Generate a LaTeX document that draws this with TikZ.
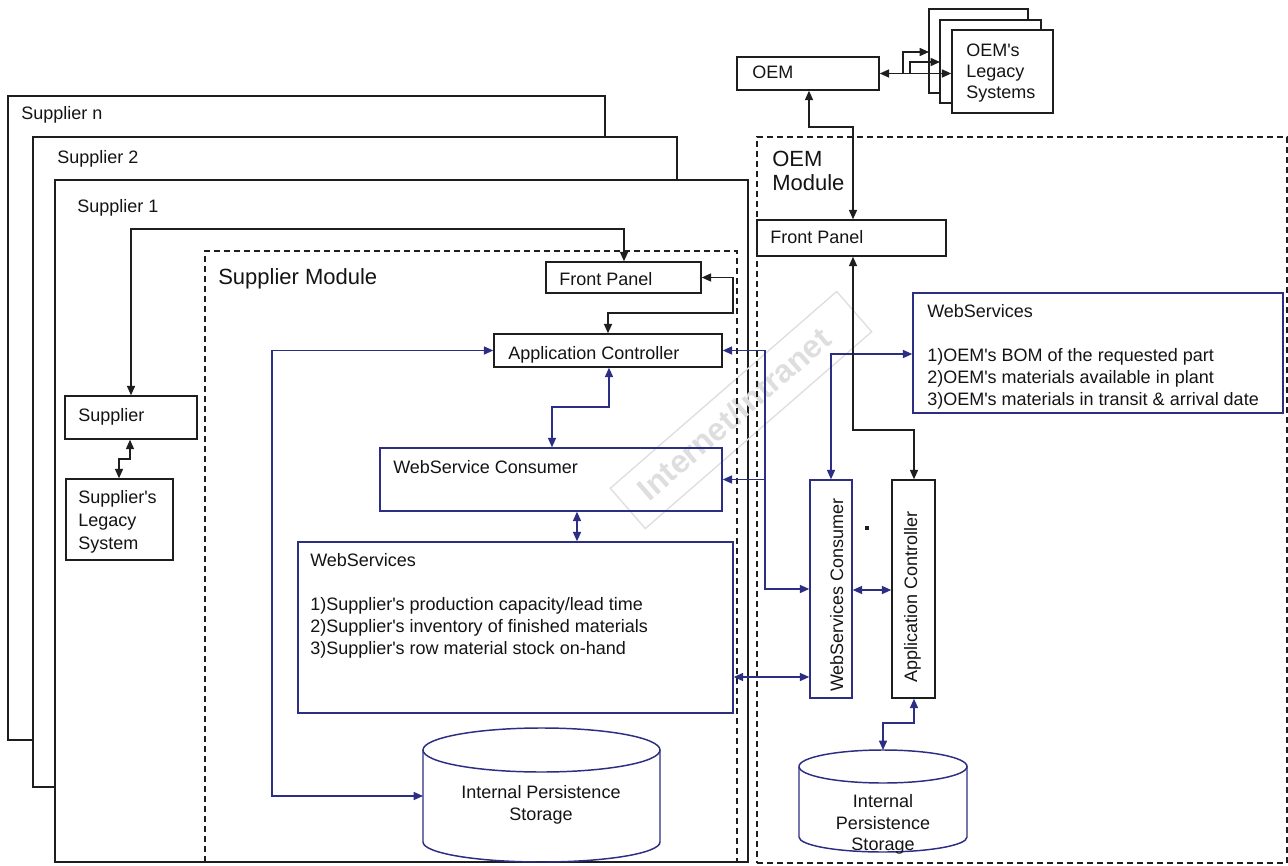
\documentclass[tikz,border=0pt]{standalone}
\usepackage{fontspec}
\setmainfont{Liberation Sans}
\newfontfamily\lsans{Liberation Sans}
\usetikzlibrary{arrows.meta,calc}
\definecolor{lnblue}{RGB}{43,46,131}
\definecolor{ink}{RGB}{30,30,30}
\definecolor{wmgray}{RGB}{222,222,222}
\newcommand{\rnode}[6]{%
  \node[#1, minimum width={(#5-#3)*0.75pt}, minimum height={(#6-#4)*0.75pt}] (#2) at ({(#3+#5)/2},{(#4+#6)/2}) {};}
\newcommand{\tx}[4]{\node[txt, anchor=base west] (#1) at (#2,#3) {#4};}
\newcommand{\tc}[4]{\node[txt, anchor=base] (#1) at (#2,#3) {#4};}
\tikzset{
  txt/.style={font=\lsans\fontsize{13.5}{16.5}\selectfont, inner sep=0pt, text=black!92},
  bigtxt/.style={font=\lsans\fontsize{16.5}{19}\selectfont, inner sep=0pt, text=black!92},
  sbox/.style={draw=ink, fill=white, line width=1.1pt, inner sep=0pt},
  bx/.style={draw=ink, line width=1.1pt, inner sep=0pt},
  bbx/.style={draw=lnblue, line width=1.1pt, inner sep=0pt},
  dbox/.style={draw=ink, line width=0.9pt, dash pattern=on 4.5pt off 3pt, inner sep=0pt},
  blk/.style={draw=ink, line width=1.1pt},
  blu/.style={draw=lnblue, line width=1.1pt},
  blkarr/.style={blk, -{Triangle[length=7pt,width=6pt]}},
  bluarr/.style={blu, -{Triangle[length=7pt,width=6pt]}},
  blkdbl/.style={blk, {Triangle[length=7pt,width=6pt]}-{Triangle[length=7pt,width=6pt]}},
  bludbl/.style={blu, {Triangle[length=7pt,width=6pt]}-{Triangle[length=7pt,width=6pt]}},
}
\begin{document}
\begin{tikzpicture}[x=0.75pt,y=-0.75pt]
\useasboundingbox (0,0) rectangle (1288,866);

% supplier stack
\rnode{sbox}{sn}{8}{96}{605}{740}
\rnode{sbox}{s2}{33}{137}{677}{787}
\rnode{sbox}{s1}{55}{180}{748}{862}
\tx{tsn}{21}{120}{Supplier n}
\tx{ts2}{57}{164}{Supplier 2}
\tx{ts1}{77}{213}{Supplier 1}

% watermark
\node[draw=wmgray, line width=1pt, minimum width=225pt, minimum height=40pt, rotate=41] (wmbox) at (741,410) {};
\node[text=wmgray, font=\lsans\bfseries\fontsize{24}{24}\selectfont, rotate=41, inner sep=0pt] (wmtext) at (734,414) {Internet/Intranet};

% supplier module
\rnode{dbox}{smod}{205}{251}{737}{862}
\node[bigtxt, anchor=base west] (tsmod) at (218,285) {Supplier Module};
\rnode{bx}{sfp}{546}{262}{701}{293}
\tx{tsfp}{559}{286}{Front Panel}
\rnode{bx}{sac}{494}{334}{722}{367}
\tx{tsac}{508}{359}{Application Controller}
\rnode{bbx}{swsc}{380}{448}{722}{511}
\tx{tswsc}{393}{473}{WebService Consumer}
\rnode{bbx}{sws}{298}{542}{733}{713}
\tx{tsws0}{310}{566}{WebServices}
\tx{tsws1}{310}{610}{1)Supplier's production capacity/lead time}
\tx{tsws2}{310}{632}{2)Supplier's inventory of finished materials}
\tx{tsws3}{310}{654}{3)Supplier's row material stock on-hand}
% supplier cylinder
\draw[blu] (541.5,750) ellipse [x radius=88.875pt, y radius=16.5pt];
\draw[blu] (423,750) -- (423,842) arc[start angle=180, end angle=360, x radius=88.875pt, y radius=15pt] -- (660,750);
\coordinate (scylw) at (423,796);
\tc{tscyl1}{541}{798}{Internal Persistence}
\tc{tscyl2}{541}{820}{Storage}
% supplier & legacy
\rnode{bx}{sup}{65}{396}{197}{439}
\tx{tsup}{78}{421}{Supplier}
\rnode{bx}{sleg}{66}{479}{173}{560}
\tx{tsleg1}{78}{503}{Supplier's}
\tx{tsleg2}{78}{526}{Legacy}
\tx{tsleg3}{78}{549}{System}

% OEM side
\rnode{dbox}{omod}{757}{137}{1287}{863}
\node[bigtxt, anchor=base west] (tomod1) at (772,167) {OEM};
\node[bigtxt, anchor=base west] (tomod2) at (772,191) {Module};
\rnode{bx}{ofp}{757}{220}{946}{256}
\tx{tofp}{770}{244}{Front Panel}
\rnode{bx}{oem}{737}{57}{879}{90}
\tx{toem}{752}{79}{OEM}
\rnode{sbox}{leg1}{929}{9}{1028}{93}
\rnode{sbox}{leg2}{940}{20}{1041}{103}
\rnode{sbox}{leg3}{952}{30}{1053}{113}
\tx{tleg1}{966}{57}{OEM's}
\tx{tleg2}{966}{78}{Legacy}
\tx{tleg3}{966}{99}{Systems}
\rnode{bbx}{ows}{913}{293}{1283}{413}
\tx{tows0}{927}{317}{WebServices}
\tx{tows1}{927}{361}{1)OEM's BOM of the requested part}
\tx{tows2}{927}{383}{2)OEM's materials available in plant}
\tx{tows3}{927}{405}{3)OEM's materials in transit \& arrival date}
\rnode{bbx}{owsc}{810}{480}{852}{698}
\node[txt, rotate=90, anchor=base] (towsc) at (843,595) {WebServices Consumer};
\rnode{bx}{oac}{892}{480}{935}{698}
\node[txt, rotate=90, anchor=base] (toac) at (917,597) {Application Controller};
\node[fill=ink, inner sep=0pt, minimum size=3pt] (dot) at (867,528) {};
% OEM cylinder
\draw[blu] (883,766.5) ellipse [x radius=63pt, y radius=12.375pt];
\draw[blu] (799,766.5) -- (799,837) arc[start angle=180, end angle=360, x radius=63pt, y radius=11.25pt] -- (967,766.5);
\coordinate (ocyltop) at (883,750);
\tc{tocyl1}{883}{807}{Internal}
\tc{tocyl2}{883}{829}{Persistence}
\tc{tocyl3}{883}{850}{Storage}

% connectors
\coordinate (k2) at (624,229);
\draw[blkdbl] (sup.north) |- (k2) -- (sfp.north -| k2);
\coordinate (k3) at (733,313);
\coordinate (k4) at (608,313);
\draw[blkdbl] (sfp.east) -| (k3) -- (k4) -- (sac.north -| k4);
\coordinate (k6) at (272,796);
\draw[bludbl] (sac.west) -| (k6) -- (scylw);
\coordinate (k7) at (609,407);
\coordinate (k8) at (552,407);
\draw[bludbl] (sac.south -| k7) -- (k7) -- (k8) -- (swsc.north -| k8);
\coordinate (k9) at (577,530);
\draw[bludbl] (swsc.south -| k9) -- (sws.north -| k9);
\coordinate (k11) at (765,479.5);
\coordinate (k12) at (765,589);
\draw[bludbl] (sac.east) -| (k12) -- (owsc.west);
\draw[bluarr] (k11) -- (swsc.east);
\coordinate (k13) at (770,677);
\draw[bludbl] (sws.east |- k13) -- (owsc.west |- k13);
\coordinate (k14) at (831,354);
\draw[bludbl] (owsc.north -| k14) -- (k14) -- (ows.west |- k14);
\coordinate (k15) at (870,590);
\draw[bludbl] (owsc.east |- k15) -- (oac.west |- k15);
\coordinate (k16) at (914,430);
\coordinate (k17) at (853,430);
\draw[blkdbl] (oac.north -| k16) -- (k16) -- (k17) -- (ofp.south -| k17);
\coordinate (k18) at (809,127);
\coordinate (k19) at (853,127);
\draw[blkdbl] (oem.south -| k18) -- (k18) -- (k19) -- (ofp.north -| k19);
\coordinate (k20) at (914,723);
\coordinate (k21) at (883,723);
\draw[bludbl] (oac.south -| k20) -- (k20) -- (k21) -- (ocyltop);
\draw[blkdbl] (oem.east) -- (leg3.west |- oem.east);
\coordinate (k22) at (903,73.5);
\coordinate (k23) at (929,52);
\draw[blkarr] (k22) |- (k23);
\coordinate (k24) at (910,73.5);
\coordinate (k25) at (940,62);
\draw[blkarr] (k24) |- (k25);
\coordinate (k26) at (130,459);
\coordinate (k27) at (119,459);
\draw[blkdbl] (sup.south -| k26) -- (k26) -- (k27) -- (sleg.north -| k27);
\end{tikzpicture}
\end{document}
